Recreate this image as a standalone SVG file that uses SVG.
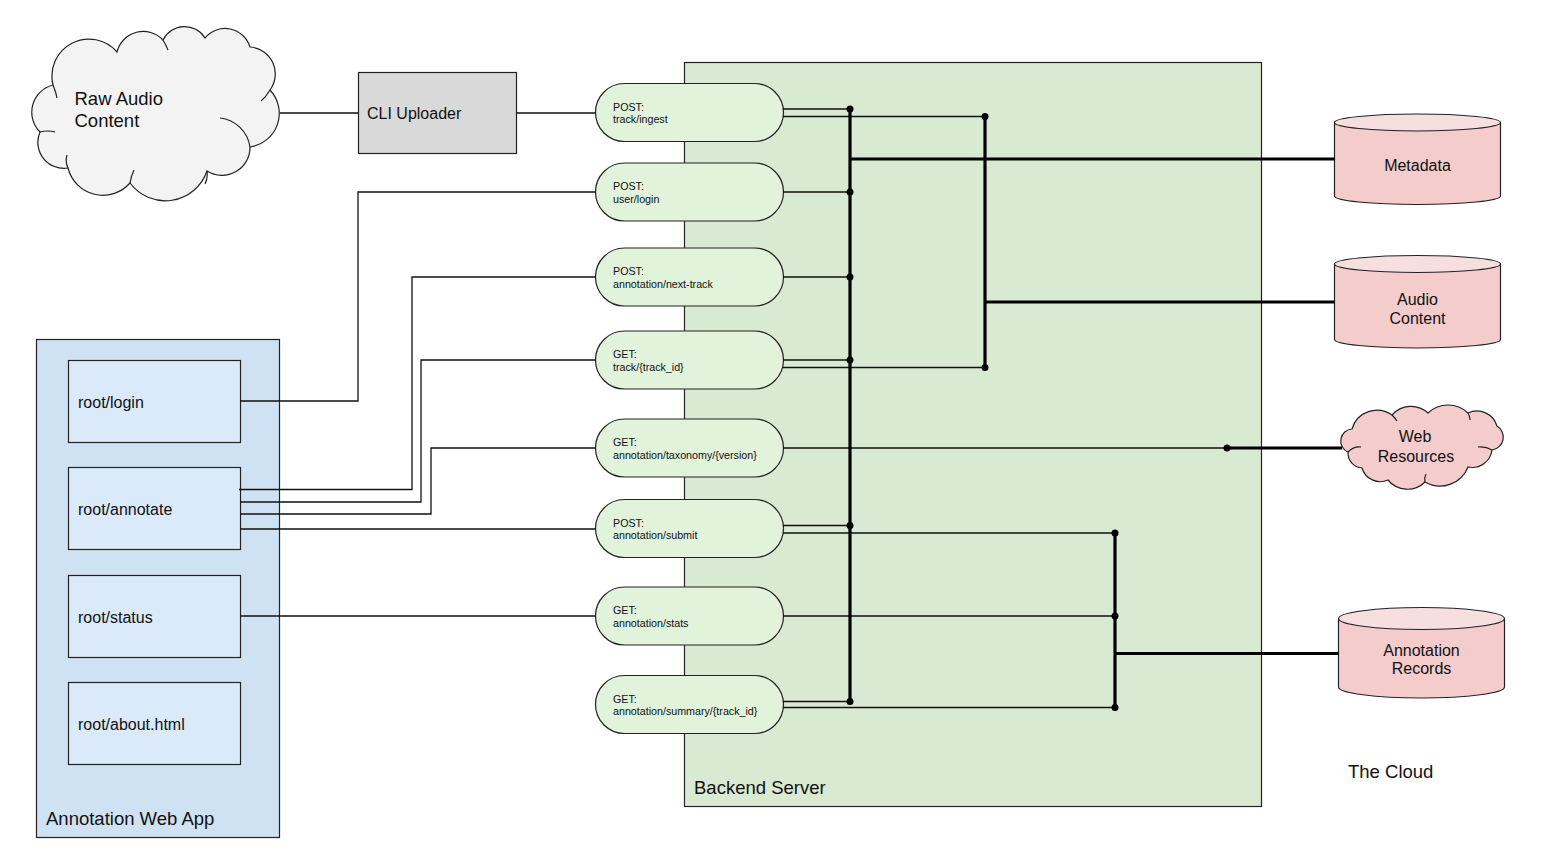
<svg xmlns="http://www.w3.org/2000/svg" width="1557" height="867" viewBox="0 0 1557 867">
<style>
text{font-family:"Liberation Sans",Arial,sans-serif;fill:#111}
.big{font-size:18.5px}
.mid{font-size:16px}
.sm{font-size:10.7px}
.shape{stroke:#222;stroke-width:1.2}
.thin{fill:none;stroke:#111;stroke-width:1.3}
.thick{fill:none;stroke:#000;stroke-width:3.2}
.inner{fill:none;stroke:#222;stroke-width:1.2}
.ep{fill:#e2f3dc;stroke:#222;stroke-width:1.2}
.page{fill:#dbeafb;stroke:#222;stroke-width:1.2}
.cyl{fill:#f4cccc;stroke:#222;stroke-width:1.2}
.cyltop{fill:#f8dfdf;stroke:#222;stroke-width:1.2}
</style>

<g id="backend-server">
<rect x="684.5" y="62.5" width="577" height="744" fill="#d9ead3" class="shape"/>
<text class="big" x="694" y="794">Backend Server</text>
</g>

<g id="annotation-web-app">
<rect x="36.5" y="339.5" width="243" height="498" fill="#cfe2f3" class="shape"/>
<text class="big" x="46" y="825">Annotation Web App</text>
</g>
<g id="root-login"><rect class="page" x="68.5" y="360.5" width="172" height="82"/><text class="mid" x="78" y="407.5">root/login</text></g>
<g id="root-annotate"><rect class="page" x="68.5" y="467.5" width="172" height="82"/><text class="mid" x="78" y="514.5">root/annotate</text></g>
<g id="root-status"><rect class="page" x="68.5" y="575.5" width="172" height="82"/><text class="mid" x="78" y="622.5">root/status</text></g>
<g id="root-about"><rect class="page" x="68.5" y="682.5" width="172" height="82"/><text class="mid" x="78" y="729.5">root/about.html</text></g>

<g id="raw-audio-content">
<path fill="#f3f3f3" class="shape" d="M53,85 A37,37 0 0 1 117,52 A27,27 0 0 1 163,40 A24,24 0 0 1 205,38 A26,26 0 0 1 250,47 A27,27 0 0 1 270,90 A34,34 0 0 1 250,147 A28,28 0 0 1 207,171 A44,44 0 0 1 130,183 A36,36 0 0 1 68,168 A26,26 0 0 1 40,132 A28,28 0 0 1 53,85 Z"/>
<path class="inner" d="M53,85 Q56,92 57,98 M163,40 Q166,45 168,50 M270,90 Q266,97 261,101 M220,118 A34,34 0 0 1 250,147 M207,171 Q208,178 205,184 M130,183 Q131,176 134,170 M68,168 Q65,162 67,155 M40,132 Q48,130 55,132"/>
<text class="big" x="74.5" y="105">Raw Audio</text>
<text class="big" x="74.5" y="126.5">Content</text>
</g>

<g id="cli-uploader">
<rect x="358.5" y="72.5" width="158" height="81" fill="#d9d9d9" class="shape"/>
<text class="mid" x="367" y="119">CLI Uploader</text>
</g>

<g id="ep-track-ingest"><rect class="ep" x="595.5" y="83.5" width="188" height="58" rx="29"/><text class="sm" x="613" y="110.5">POST:</text><text class="sm" x="613" y="123.2">track/ingest</text></g>
<g id="ep-user-login"><rect class="ep" x="595.5" y="163" width="188" height="58" rx="29"/><text class="sm" x="613" y="190">POST:</text><text class="sm" x="613" y="202.7">user/login</text></g>
<g id="ep-next-track"><rect class="ep" x="595.5" y="248" width="188" height="58" rx="29"/><text class="sm" x="613" y="275">POST:</text><text class="sm" x="613" y="287.7">annotation/next-track</text></g>
<g id="ep-track-id"><rect class="ep" x="595.5" y="331" width="188" height="58" rx="29"/><text class="sm" x="613" y="358">GET:</text><text class="sm" x="613" y="370.7">track/{track_id}</text></g>
<g id="ep-taxonomy"><rect class="ep" x="595.5" y="419" width="188" height="58" rx="29"/><text class="sm" x="613" y="446">GET:</text><text class="sm" x="613" y="458.7">annotation/taxonomy/{version}</text></g>
<g id="ep-submit"><rect class="ep" x="595.5" y="499.5" width="188" height="58" rx="29"/><text class="sm" x="613" y="526.5">POST:</text><text class="sm" x="613" y="539.2">annotation/submit</text></g>
<g id="ep-stats"><rect class="ep" x="595.5" y="587" width="188" height="58" rx="29"/><text class="sm" x="613" y="614">GET:</text><text class="sm" x="613" y="626.7">annotation/stats</text></g>
<g id="ep-summary"><rect class="ep" x="595.5" y="675.5" width="188" height="58" rx="29"/><text class="sm" x="613" y="702.5">GET:</text><text class="sm" x="613" y="715.2">annotation/summary/{track_id}</text></g>

<g id="metadata">
<path class="cyl" d="M1334.5,122.5 V196 A83,8.5 0 0 0 1500.5,196 V122.5 Z"/>
<ellipse class="cyltop" cx="1417.5" cy="122.5" rx="83" ry="8.5"/>
<text class="mid" x="1417.5" y="171" text-anchor="middle">Metadata</text>
</g>
<g id="audio-content">
<path class="cyl" d="M1334.5,264 V339.5 A83,8.5 0 0 0 1500.5,339.5 V264 Z"/>
<ellipse class="cyltop" cx="1417.5" cy="264" rx="83" ry="8.5"/>
<text class="mid" x="1417.5" y="305" text-anchor="middle">Audio</text>
<text class="mid" x="1417.5" y="323.5" text-anchor="middle">Content</text>
</g>
<g id="web-resources">
<path fill="#f4cccc" class="shape" d="M1352,429 A26,26 0 0 1 1392,415 A25,25 0 0 1 1428,413 A29,29 0 0 1 1468,413 A21,21 0 0 1 1497,426 A13,13 0 0 1 1492,450 A20,20 0 0 1 1468,467 A30,30 0 0 1 1425,482 A25,25 0 0 1 1388,480 A19,19 0 0 1 1362,468 A15,15 0 0 1 1348,452 A12,12 0 0 1 1352,429 Z"/>
<path class="inner" d="M1348,452 Q1354,446 1361,447 M1492,450 Q1485,446 1478,447 M1392,415 Q1395,418 1397,421 M1468,413 Q1470,416 1470,420 M1425,482 Q1424,478 1426,474"/>
<text class="mid" x="1415" y="442" text-anchor="middle">Web</text>
<text class="mid" x="1416" y="461.5" text-anchor="middle">Resources</text>
</g>
<g id="annotation-records">
<path class="cyl" d="M1338.5,618.5 V687 A83,11 0 0 0 1504.5,687 V618.5 Z"/>
<ellipse class="cyltop" cx="1421.5" cy="618.5" rx="83" ry="11"/>
<text class="mid" x="1421.5" y="655.5" text-anchor="middle">Annotation</text>
<text class="mid" x="1421.5" y="674" text-anchor="middle">Records</text>
</g>

<g id="the-cloud-label">
<text class="big" x="1348" y="777.5">The Cloud</text>
</g>

<g id="connectors">
<path class="thin" d="M280,113 H358.5 M516.5,113 H595.5"/>
<path class="thin" d="M240.5,401 H358 V192 H595.5"/>
<path class="thin" d="M239,489.5 H412 V277 H595.5"/>
<path class="thin" d="M240.5,502 H421 V360 H595.5"/>
<path class="thin" d="M240.5,514 H431 V448 H595.5"/>
<path class="thin" d="M240.5,529 H595.5"/>
<path class="thin" d="M240.5,616 H595.5"/>
<path class="thin" d="M783,109 H850 M783,116.5 H985 M783,192 H850 M783,277 H850 M783,360 H850 M783,367.5 H985 M783,448 H1227 M783,525.5 H850 M783,533 H1115 M783,616 H1115 M783,701.5 H850 M783,707.5 H1115"/>
<path class="thick" d="M850,109 V701.5 M985,116.5 V367.5 M1115,533 V707.5 M850,159 H1334.5 M985,302 H1334.5 M1227,448 H1342 M1115,653.5 H1338.5"/>
<g fill="#000">
<circle cx="850" cy="109" r="3.5"/><circle cx="985" cy="116.5" r="3.5"/><circle cx="850" cy="192" r="3.5"/><circle cx="850" cy="277" r="3.5"/><circle cx="850" cy="360" r="3.5"/><circle cx="985" cy="367.5" r="3.5"/><circle cx="1227" cy="448" r="3.5"/><circle cx="850" cy="525.5" r="3.5"/><circle cx="1115" cy="533" r="3.5"/><circle cx="1115" cy="616" r="3.5"/><circle cx="850" cy="701.5" r="3.5"/><circle cx="1115" cy="707.5" r="3.5"/>
</g>
</g>
</svg>
